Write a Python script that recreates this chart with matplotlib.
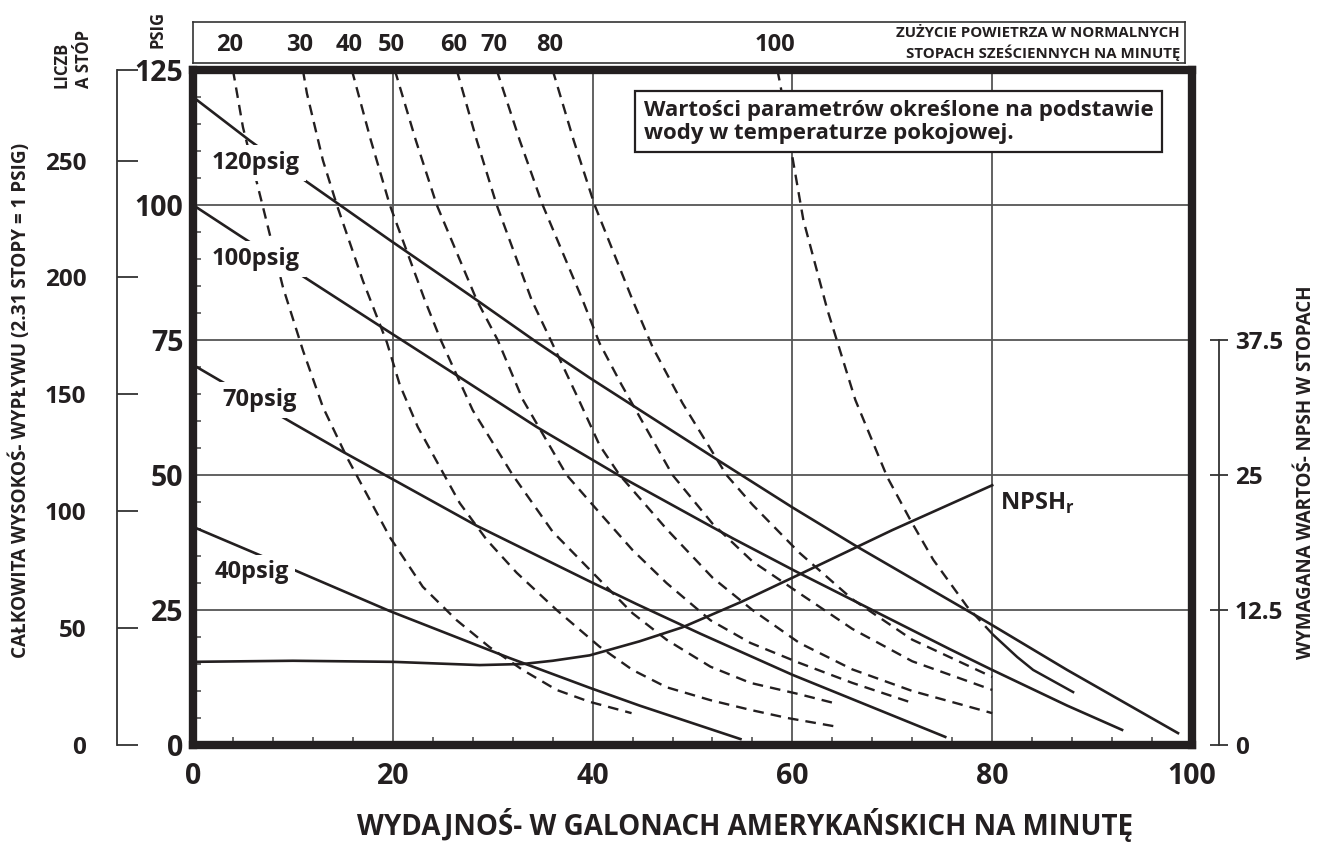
import numpy as np
import matplotlib.pyplot as plt

plt.rcParams['font.family'] = ['Open Sans', 'DejaVu Sans']
plt.rcParams['font.weight'] = 'bold'
plt.rcParams['mathtext.fontset'] = 'custom'
plt.rcParams['mathtext.rm'] = 'Open Sans:bold'

INK = '#231f20'

# discharge head curves: flow (gpm) vs discharge pressure (psig)
head120_x = [0, 5.7, 11.0, 14.7, 19.7, 27.7, 34.4, 39.7, 52.5, 60.0, 66.5, 77.5, 80.0, 87.5, 98.6]
head120_y = [120, 111.9, 104.8, 100, 93.5, 83.3, 74.6, 68.0, 52.8, 44.0, 36.7, 24.9, 22.2, 13.9, 2.2]
head100_x = [0, 4.7, 10.0, 18.7, 26.7, 34.4, 43.2, 54.0, 60.5, 75.7, 80.0, 87.5, 93.0]
head100_y = [100, 94.3, 88.0, 77.6, 68.1, 58.9, 49.3, 38.3, 32.0, 17.8, 13.9, 7.3, 2.8]
head70_x = [0, 5.0, 10.0, 15.0, 20.0, 28.4, 39.7, 44.4, 50.8, 60.0, 75.3]
head70_y = [70.4, 65.0, 59.6, 54.3, 49.2, 40.6, 30.3, 26.1, 20.6, 13.0, 1.5]
head40_x = [0, 6.5, 11.9, 19.7, 31.7, 39.7, 44.7, 54.8]
head40_y = [40.4, 35.3, 31.0, 24.8, 16.1, 10.6, 7.3, 1.1]

# air consumption curves (SCFM)
air20_x = [4.0, 5.0, 6.9, 9.0, 11.0, 13.0, 15.4, 17.7, 19.7, 23.0, 26.4, 29.7, 33.0, 36.4, 39.7, 43.9]
air20_y = [125, 114.4, 100.4, 84.8, 73.1, 62.6, 53.3, 45.4, 38.5, 29.3, 23.1, 18.1, 13.9, 10.2, 8.0, 5.9]
air30_x = [11.0, 11.4, 13.0, 14.4, 17.0, 19.4, 20.7, 22.5, 24.7, 26.7, 29.4, 32.4, 36.4, 40.7, 44.0, 47.4, 51.8, 55.8, 59.5, 64.1]
air30_y = [125, 120.7, 108.3, 100, 86.0, 74.6, 66.7, 58.9, 51.5, 44.8, 38.0, 31.9, 25.0, 18.2, 13.9, 10.7, 8.3, 6.5, 5.0, 3.5]
air40_x = [15.9, 17.8, 19.7, 23.2, 24.8, 28.0, 32.0, 36.0, 40.7, 44.0, 47.4, 51.8, 55.8, 60.7, 64.1]
air40_y = [125, 112, 100, 82.4, 75, 62, 50, 39.5, 30.6, 24.4, 19.5, 14.5, 11.5, 9.4, 7.8]
air50_x = [20.2, 22.3, 24.4, 28.4, 30.5, 33.0, 37.4, 40.7, 44.0, 47.4, 51.8, 55.8, 60.7, 66.0, 72.0]
air50_y = [125, 112, 100, 82.4, 75, 64, 50, 43, 36.1, 30.0, 23.1, 18.9, 15.2, 11.5, 7.8]
air60_x = [26.4, 28.4, 30.4, 33.9, 35.8, 38.6, 40.7, 42.7, 47.4, 52.0, 56.0, 60.7, 66.0, 72.0, 80.0]
air60_y = [125, 112, 100, 82.4, 75, 64, 55.5, 50, 40, 31, 25, 18.9, 14, 10, 5.9]
air70_x = [30.4, 32.7, 35.0, 39.0, 40.7, 42.9, 48.0, 52.0, 56.0, 60.7, 66.0, 72.0, 80.0]
air70_y = [125, 112, 100, 82.4, 74.4, 66.7, 50, 41, 34, 28.1, 21.5, 15.5, 10.2]
air80_x = [36.0, 38.1, 40.2, 44.0, 46.0, 49.0, 53.4, 56.0, 60.7, 66.0, 72.0, 80.0]
air80_y = [125, 112, 100, 82.4, 73.7, 63.3, 50, 44.5, 35.6, 27, 19.5, 12.6]
air100_x = [58.5, 58.8, 60.1, 61.1, 63.5, 66.3, 69.5, 71.8, 74.1, 77.5, 80.1]
air100_y = [125, 122.2, 107.8, 97.2, 80.6, 63.9, 49.6, 41.7, 34.3, 25.6, 20.4]
air100_tail_x = [80.1, 82.5, 84.1, 88.1]
air100_tail_y = [20.4, 16.3, 13.9, 9.8]
scfm_labels = ['20', '30', '40', '50', '60', '70', '80', '100']

# NPSH required (feet)
npsh_x = [0, 10, 20, 28.7, 33, 36, 39.7, 44.7, 49, 55, 60.6, 70, 80]
npsh_ft = [7.7, 7.8, 7.7, 7.4, 7.5, 7.8, 8.3, 9.6, 10.9, 13.3, 15.75, 19.9, 24.05]

x_ticks = [0, 20, 40, 60, 80, 100]
psig_ticks = [0, 25, 50, 75, 100, 125]
feet_ticks = [0, 50, 100, 150, 200, 250]
npsh_ticks = [0, 12.5, 25, 37.5]

W, H = 1327, 850
fig = plt.figure(figsize=(W / 100, H / 100), dpi=100)


def fx(px):
    return px / W


def fy(py):
    return 1 - py / H


ax = fig.add_axes([fx(193), fy(745), fx(1192) - fx(193), fy(70) - fy(745)])
ax.set_xlim(0, 100)
ax.set_ylim(0, 125)
ax.set_xticks(x_ticks)
ax.set_yticks(psig_ticks)
ax.set_xticks(np.arange(0, 101, 4), minor=True)
ax.set_yticks(np.arange(0, 126, 5), minor=True)
ax.tick_params(which='major', length=0, labelsize=20.5, colors=INK)
ax.tick_params(axis='x', which='major', pad=12)
ax.tick_params(axis='y', which='major', pad=7)
ax.tick_params(which='minor', direction='in', length=6, width=1.1, color='#444444')
ax.grid(True, which='major', color='#555555', lw=1.3)
for s in ax.spines.values():
    s.set_linewidth(6)
    s.set_color(INK)
    s.set_capstyle('projecting')
    s.set_zorder(6)

# air lines
air_x = [air20_x, air30_x, air40_x, air50_x, air60_x, air70_x, air80_x, air100_x]
air_y = [air20_y, air30_y, air40_y, air50_y, air60_y, air70_y, air80_y, air100_y]
for xs, ys in zip(air_x, air_y):
    ax.plot(xs, ys, color=INK, lw=1.7, linestyle=(0, (4.5, 3)), zorder=3)
ax.plot(air100_tail_x, air100_tail_y, color=INK, lw=1.8, zorder=3)

# head lines
for xs, ys in [(head120_x, head120_y), (head100_x, head100_y),
               (head70_x, head70_y), (head40_x, head40_y)]:
    ax.plot(xs, ys, color=INK, lw=1.9, zorder=3)

lab_box = dict(facecolor='white', edgecolor='none', pad=4)
ax.text(1.9, 107.8, '120psig', fontsize=17, va='center', color=INK, bbox=lab_box, zorder=4)
ax.text(1.9, 90.0, '100psig', fontsize=17, va='center', color=INK, bbox=lab_box, zorder=4)
ax.text(2.9, 63.9, '70psig', fontsize=17, va='center', color=INK, bbox=lab_box, zorder=4)
ax.text(2.2, 32.0, '40psig', fontsize=17, va='center', color=INK, bbox=lab_box, zorder=4)
ax.text(80.8, 44.8, r'NPSH$_\mathregular{r}$', fontsize=17, va='center', color=INK, zorder=4)

ax.text(45.1, 115.4, 'Wartości parametrów określone na podstawie\nwody w temperaturze pokojowej.',
        fontsize=16, va='center', ha='left', color=INK, linespacing=1.15, zorder=5,
        bbox=dict(boxstyle='square,pad=0.38', facecolor='white', edgecolor=INK, lw=1.6))

# feet axis on the far left
axf = ax.twinx()
axf.set_ylim(0, 125 * 2.31)
axf.yaxis.set_ticks_position('left')
axf.spines['left'].set_visible(True)
axf.spines['left'].set_position(('outward', 76 * 0.72))
for side in ['right', 'top', 'bottom']:
    axf.spines[side].set_visible(False)
axf.spines['left'].set_linewidth(1.3)
axf.spines['left'].set_color('#333333')
axf.set_yticks(feet_ticks)
axf.set_yticks([125 * 2.31], minor=True)
axf.tick_params(axis='y', which='both', direction='in', length=15, width=1.3,
                color='#333333', labelsize=17.5, pad=22, labelcolor=INK)

# NPSH axis on the right
axn = ax.twinx()
axn.set_ylim(0, 62.5)
axn.spines['right'].set_position(('outward', 27 * 0.72))
axn.spines['right'].set_bounds(0, 37.5)
axn.spines['right'].set_linewidth(1.3)
axn.spines['right'].set_color('#333333')
for side in ['left', 'top', 'bottom']:
    axn.spines[side].set_visible(False)
axn.set_yticks(npsh_ticks)
axn.set_yticklabels(['0', '12.5', '25', '37.5'])
axn.tick_params(axis='y', direction='inout', length=13, width=1.3, color='#333333',
                labelsize=17.5, pad=5, labelcolor=INK)
axn.plot(npsh_x, npsh_ft, color=INK, lw=1.9, zorder=3)

# air consumption scale box on top
axt = fig.add_axes([fx(193), fy(63), fx(1185) - fx(193), fy(22) - fy(63)])
axt.set_xlim(0, (1185 - 193) / 9.99)
axt.set_ylim(0, 1)
axt.set_xticks([])
axt.set_yticks([])
for s in axt.spines.values():
    s.set_linewidth(1.2)
    s.set_color('#333333')
for xs, lab in zip(air_x, scfm_labels):
    axt.text(xs[0] - 0.3, 0.45, lab, fontsize=17, ha='center', va='center', color=INK)
axt.text(0.995, 0.72, 'ZUŻYCIE POWIETRZA W NORMALNYCH', transform=axt.transAxes,
         fontsize=10.8, ha='right', va='center', color=INK)
axt.text(0.995, 0.25, 'STOPACH SZEŚCIENNYCH NA MINUTĘ', transform=axt.transAxes,
         fontsize=10.8, ha='right', va='center', color=INK)

# outer labels
fig.text(fx(20), fy(400), 'CAŁKOWITA WYSOKOŚ- WYPŁYWU (2.31 STOPY = 1 PSIG)', rotation=90,
         fontsize=13.6, ha='center', va='center', color=INK)
fig.text(fx(61), fy(88), 'LICZB', rotation=90, fontsize=12, ha='center', va='bottom', color=INK)
fig.text(fx(84), fy(88), 'A STÓP', rotation=90, fontsize=12, ha='center', va='bottom', color=INK)
fig.text(fx(158), fy(48), 'PSIG', rotation=90, fontsize=12, ha='center', va='bottom', color=INK)
fig.text(fx(1306), fy(472), 'WYMAGANA WARTOŚ- NPSH W STOPACH', rotation=90,
         fontsize=13.5, ha='center', va='center', color=INK)
fig.text(fx(745), fy(825), 'WYDAJNOŚ- W GALONACH AMERYKAŃSKICH NA MINUTĘ',
         fontsize=20, ha='center', va='center', color=INK)

fig.savefig('out.png', dpi=100)
